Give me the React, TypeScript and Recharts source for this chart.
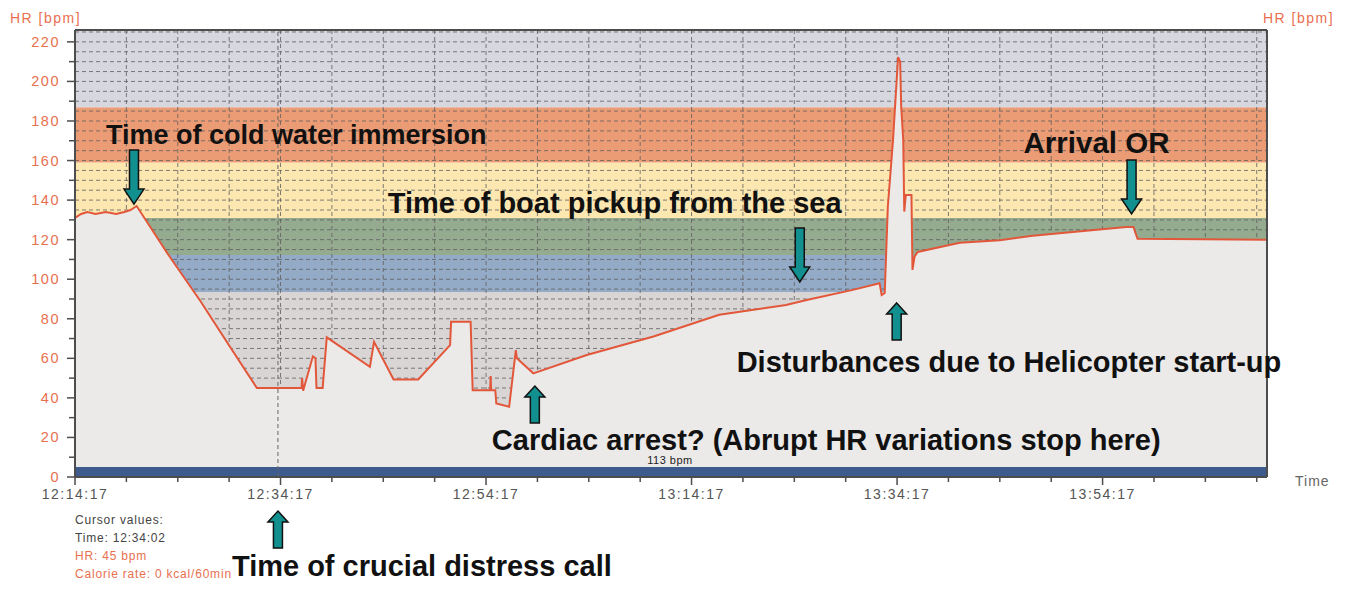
import React from 'react';
import {
  ComposedChart,
  Area,
  XAxis,
  YAxis,
  CartesianGrid,
  ReferenceArea,
  ReferenceLine,
  ReferenceDot,
} from 'recharts';

// minutes after 12:14:17 and heart rate
const minutes = [
  0, 0.6, 1.2, 2, 3, 4, 4.8, 5.4, 6, 9, 12.2, 15, 17.7, 22.05, 22.1, 22.2, 23.15, 23.4, 23.5, 24.1,
  24.5, 28.7, 29.1, 31, 33.4, 36.5, 36.6, 38.5, 38.7, 40.4, 40.45, 40.5, 40.9, 41, 42.25, 42.9, 43,
  44.6, 49.8, 56.3, 62.7, 69.2, 71.2, 75.7, 78.3, 78.5, 78.8, 79.1, 79.6, 80.1, 80.3, 80.4, 80.6,
  80.7, 80.85, 81.4, 81.5, 81.7, 82, 86.1, 90, 93.2, 102.3, 103, 103.4, 116,
];
const heartRate = [
  131, 133, 134, 133, 134, 133, 134, 135, 137, 113, 89, 66.5, 45, 45, 50, 43.6, 61, 60, 45, 45,
  70.6, 55.7, 68.3, 49.3, 49.3, 66.7, 78.5, 78.5, 43.9, 43.9, 51, 43.9, 43.9, 37.2, 35.5, 64.1, 60,
  52.4, 61.7, 71, 82, 87, 89.5, 94.6, 98, 92, 93, 136.5, 170, 212.3, 210, 187.3, 170.5,
  134.2, 142.6, 142.6, 104.7, 111.4, 113.8, 118.4, 119.7, 122, 126.4, 126.4, 120.5, 120,
];
const data = minutes.map((t, i) => ({ t, hr: heartRate[i] }));

const timeTicks = [0, 5, 10, 15, 20, 25, 30, 35, 40, 45, 50, 55, 60, 65, 70, 75, 80, 85, 90, 95, 100, 105, 110, 115];
const labelMinutes = [0, 20, 40, 60, 80, 100];
const labelTimes = ['12:14:17', '12:34:17', '12:54:17', '13:14:17', '13:34:17', '13:54:17'];
const gridMinutes = [5, 10, 15, 20, 25, 30, 35, 40, 45, 50, 55, 60, 65, 70, 75, 80, 85, 90, 95, 100, 105, 110, 115];

const hrTicks = [0, 10, 20, 30, 40, 50, 60, 70, 80, 90, 100, 110, 120, 130, 140, 150, 160, 170, 180, 190, 200, 210, 220];
const gridHr = [
  5, 10, 15, 20, 25, 30, 35, 40, 45, 50, 55, 60, 65, 70, 75, 80, 85, 90, 95, 100, 105, 110, 115,
  120, 125, 130, 135, 140, 145, 150, 155, 160, 165, 170, 175, 180, 185, 190, 195, 200, 205, 210,
  215, 220, 225,
];

// heart rate zones (max HR 187)
const zoneEdges = [5, 93.5, 112.2, 130.9, 159, 187, 226];
const zoneColors = ['#dad5d5', '#94abc8', '#95ab8f', '#fce7b1', '#ec9c75', '#d6d7df'];

const cursorMinute = 19.75;

// annotations: arrow tip in data units
const noteText = [
  'Time of cold water immersion',
  'Time of boat pickup from the sea',
  'Arrival OR',
  'Disturbances due to Helicopter start-up',
  'Cardiac arrest? (Abrupt HR variations stop here)',
  'Time of crucial distress call',
];
const noteMinute = [5.74, 70.53, 102.82, 79.96, 44.75, 19.75];
const noteHr = [138, 98.6, 133, 88, 46, -17.2];
const noteUp = [false, false, false, true, true, true];
// text offset from arrow tip, px, and font size
const noteDx = [-28, -412, -108, -160, -43, -46];
const noteDy = [-60, -69, -61, 69, 64, 65];
const noteSize = [27, 29, 29.5, 29, 29, 29];

const ORANGE = '#e8704f';
const AXIS = '#4d4d4d';

const labelFor = (v: number) => {
  const i = labelMinutes.indexOf(v);
  return i >= 0 ? labelTimes[i] : null;
};

const TimeTick = (props: any) => {
  const { x, y, payload } = props;
  const label = labelFor(payload.value);
  return (
    <g>
      <line x1={x} x2={x} y1={y} y2={y + (label ? 8 : 5)} stroke={AXIS} strokeWidth={1.5} />
      {label && (
        <text x={x} y={y + 22} textAnchor="middle" fontSize={14} letterSpacing={1.5} fill="#555">
          {label}
        </text>
      )}
    </g>
  );
};

const LeftTick = (props: any) => {
  const { x, y, payload } = props;
  const major = payload.value % 20 === 0;
  return (
    <g>
      <line x1={x - (major ? 8 : 6)} x2={x} y1={y} y2={y} stroke={AXIS} strokeWidth={1.5} />
      {major && (
        <text x={x - 15} y={y + 5} textAnchor="end" fontSize={14.5} letterSpacing={1.5} fill={ORANGE}>
          {payload.value}
        </text>
      )}
    </g>
  );
};

const RightTick = (props: any) => {
  const { x, y, payload } = props;
  const major = payload.value % 20 === 0;
  return (
    <g>
      <line x1={x} x2={x + (major ? 10 : 7)} y1={y} y2={y} stroke={AXIS} strokeWidth={1.5} />
      {major && payload.value > 0 && (
        <text x={x + 15} y={y + 5} textAnchor="start" fontSize={14.5} letterSpacing={1.5} fill={ORANGE}>
          {payload.value}
        </text>
      )}
    </g>
  );
};

const Arrow = ({ cx, cy, up, dx, dy, text, size }: any) => {
  const len = up ? 37 : 54;
  const head = up ? 11 : 15;
  const s = up ? 1 : -1; // direction from tip toward tail
  const pts = [
    [cx, cy],
    [cx + 10, cy + s * head],
    [cx + 4.5, cy + s * head],
    [cx + 4.5, cy + s * len],
    [cx - 4.5, cy + s * len],
    [cx - 4.5, cy + s * head],
    [cx - 10, cy + s * head],
  ]
    .map((p) => p.join(','))
    .join(' ');
  return (
    <g>
      <polygon points={pts} fill="#11908f" stroke="#111" strokeWidth={1.5} strokeLinejoin="miter" />
      <text
        x={cx + dx}
        y={cy + dy}
        fontSize={size}
        fontWeight="bold"
        fill="#111"
        fontFamily="'Liberation Sans', Arial, sans-serif"
      >
        {text}
      </text>
    </g>
  );
};

export default function App() {
  return (
    <div style={{ position: 'relative', width: 1331, height: 575, fontFamily: "'Liberation Sans', Arial, sans-serif" }}>
      <ComposedChart width={1331} height={575} data={data} margin={{ top: 22, right: 12, bottom: 76, left: 0 }}>
        {zoneColors.map((c, i) => (
          <ReferenceArea
            key={`zone-${i}`}
            y1={zoneEdges[i]}
            y2={zoneEdges[i + 1]}
            fill={c}
            fillOpacity={1}
            stroke="none"
            zIndex={-200}
          />
        ))}
        <CartesianGrid
          stroke="#5f5f5f"
          strokeDasharray="4 3"
          horizontalValues={gridHr}
          verticalValues={gridMinutes}
          strokeOpacity={0.8}
        />
        <XAxis
          dataKey="t"
          type="number"
          domain={[0, 116]}
          ticks={timeTicks}
          interval={0}
          tick={<TimeTick />}
          tickLine={false}
          tickSize={0}
          tickMargin={0}
          height={30}
          axisLine={{ stroke: AXIS, strokeWidth: 2 }}
        />
        <YAxis
          type="number"
          domain={[0, 226]}
          ticks={hrTicks}
          interval={0}
          width={67}
          tick={<LeftTick />}
          tickLine={false}
          tickSize={0}
          tickMargin={0}
          axisLine={{ stroke: AXIS, strokeWidth: 2 }}
        />
        <YAxis
          yAxisId="r"
          orientation="right"
          type="number"
          domain={[0, 226]}
          ticks={hrTicks}
          interval={0}
          width={60}
          tick={<RightTick />}
          tickLine={false}
          tickSize={0}
          tickMargin={0}
          axisLine={{ stroke: AXIS, strokeWidth: 2 }}
        />
        <Area
          type="linear"
          dataKey="hr"
          stroke="#e2573a"
          strokeWidth={2}
          fill="#ebeae9"
          fillOpacity={1}
          baseValue={0}
          dot={false}
          activeDot={false}
          isAnimationActive={false}
        />
        <ReferenceArea y1={0} y2={5} fill="#3d5b8c" fillOpacity={1} stroke="none" zIndex={150} />
        <ReferenceLine y={226} stroke={AXIS} strokeWidth={2} />
        <ReferenceLine x={cursorMinute} stroke="#666" strokeDasharray="4 3" />
        {noteText.map((txt, i) => (
          <ReferenceDot
            key={`note-${i}`}
            x={noteMinute[i]}
            y={noteHr[i]}
            ifOverflow="visible"
            zIndex={2000}
            shape={(p: any) => (
              <Arrow cx={p.cx} cy={p.cy} up={noteUp[i]} dx={noteDx[i]} dy={noteDy[i]} text={txt} size={noteSize[i]} />
            )}
          />
        ))}
      </ComposedChart>
      <svg
        width={1331}
        height={575}
        style={{ position: 'absolute', left: 0, top: 0, pointerEvents: 'none' }}
        fontFamily="'Liberation Sans', Arial, sans-serif"
      >
        <text x={2} y={15} fontSize={14} letterSpacing={1.5} fill={ORANGE}>HR [bpm]</text>
        <text x={1255} y={15} fontSize={14} letterSpacing={1.5} fill={ORANGE}>HR [bpm]</text>
        <text x={1287} y={478} fontSize={14} letterSpacing={1} fill="#666">Time</text>
        <text x={662} y={456} fontSize={11} letterSpacing={0.5} textAnchor="middle" fill="#222">113 bpm</text>
        <text x={67} y={516} fontSize={12} letterSpacing={0.8} fill="#444">Cursor values:</text>
        <text x={67} y={534} fontSize={12} letterSpacing={0.8} fill="#444">Time: 12:34:02</text>
        <text x={67} y={552} fontSize={12} letterSpacing={0.8} fill={ORANGE}>HR: 45 bpm</text>
        <text x={67} y={570} fontSize={12} letterSpacing={0.8} fill={ORANGE}>Calorie rate: 0 kcal/60min</text>
      </svg>
    </div>
  );
}
